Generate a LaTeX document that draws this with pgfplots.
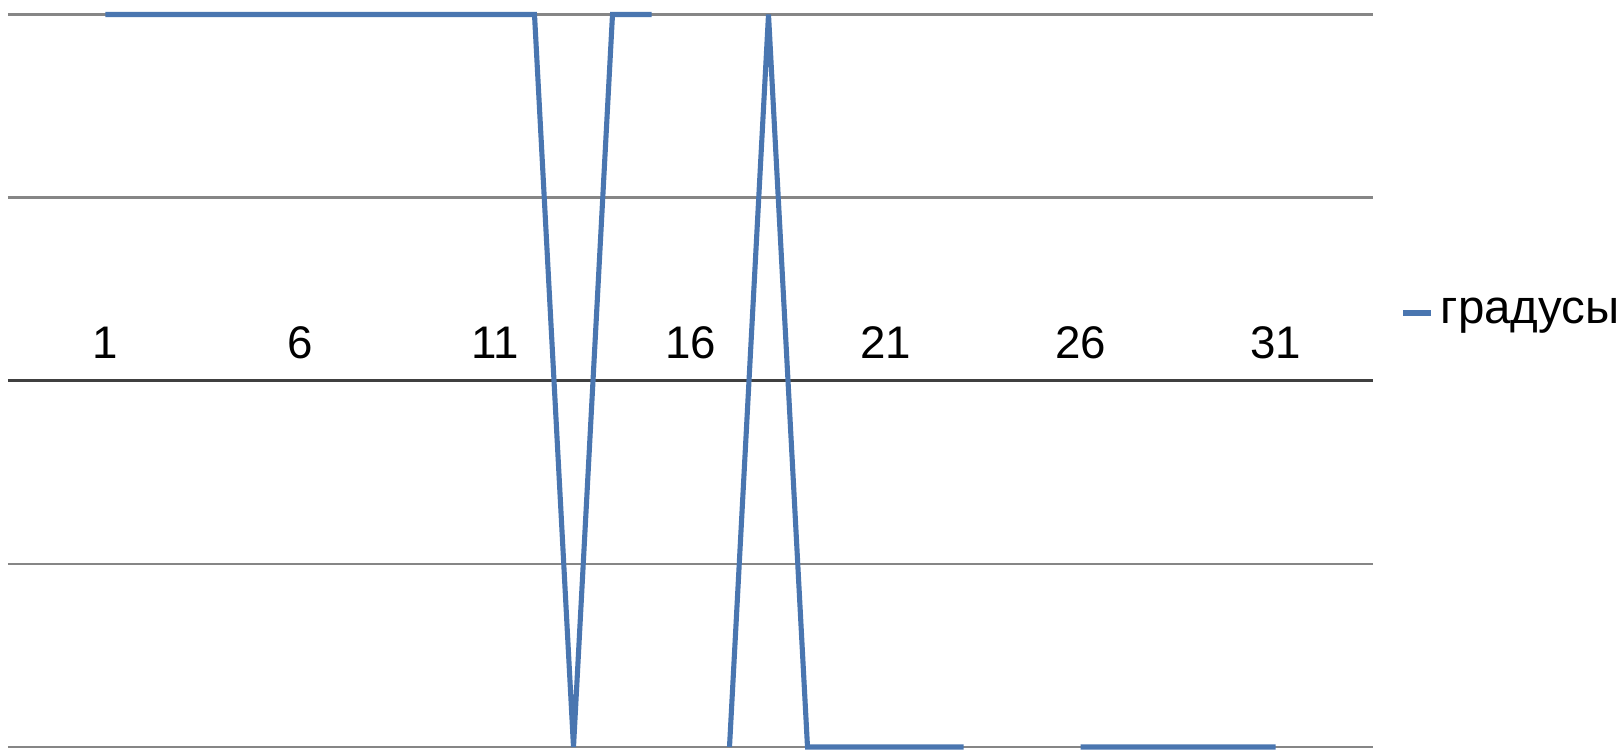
\documentclass[border=0pt]{standalone}
\usepackage{fontspec}
\setmainfont{Liberation Sans}
\usepackage{pgfplots}
\pgfplotsset{compat=1.18}
\definecolor{serie}{RGB}{74,118,176}
\definecolor{gridc}{RGB}{134,134,134}
\definecolor{axisc}{RGB}{64,64,64}
\begin{document}
\begin{tikzpicture}[x=1cm,y=1cm]
\begin{axis}[
  at={(0.08cm,0.03cm)}, anchor=south west,
  scale only axis, width=13.65cm, height=7.325cm,
  xmin=-1.5, xmax=33.5, ymin=-2, ymax=2,
  axis x line*=middle, axis y line*=left,
  y axis line style={draw=none},
  x axis line style={draw=axisc, line width=0.9pt},
  xtick={1,6,11,16,21,26,31},
  ytick={-2,-1,1,2},
  yticklabels={},
  major tick length=0pt,
  ymajorgrids, grid style={gridc, line width=0.65pt},
  xticklabel style={anchor=base, yshift=0.22cm, font=\fontsize{13}{15}\selectfont},
  /pgf/number format/assume math mode=true,
  unbounded coords=jump,
  clip=false,
  legend style={at={(1.0198,0.5925)}, anchor=west, draw=none, fill=none,
    font=\fontsize{13.5}{15}\selectfont, inner sep=0pt,
    legend cell align=left},
  legend image code/.code={\draw[#1] (0cm,0cm) -- (0.28cm,0cm);},
]
\addplot[serie, line width=1.45pt, line join=miter] coordinates {
(1,2) (2,2) (3,2) (4,2) (5,2) (6,2) (7,2) (8,2) (9,2) (10,2) (11,2) (12,2)
(13,-2) (14,2) (15,2) (16,nan) (17,-2) (18,2)
(19,-2) (20,-2) (21,-2) (22,-2) (23,-2) (24,nan) (25,nan)
(26,-2) (27,-2) (28,-2) (29,-2) (30,-2) (31,-2)
};
\addlegendentry{градусы}
\end{axis}
\pgfresetboundingbox
\useasboundingbox (0,0) rectangle (16.23,7.5);
\end{tikzpicture}
\end{document}
